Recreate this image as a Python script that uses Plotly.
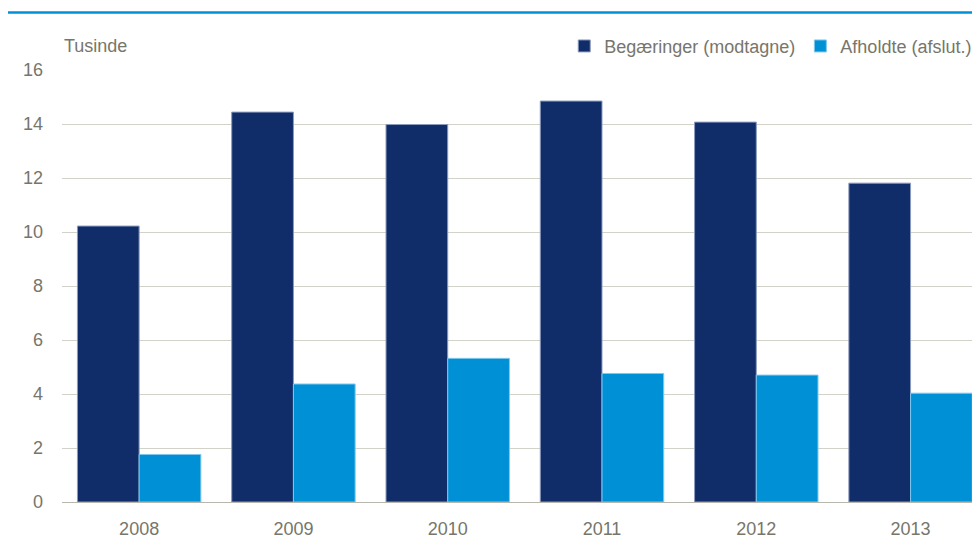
import plotly.graph_objects as go

# Antal sager (tusinde) pr. år
years = ["2008", "2009", "2010", "2011", "2012", "2013"]
begaeringer = [10.22, 14.44, 13.98, 14.85, 14.07, 11.81]
afholdte = [1.76, 4.37, 5.32, 4.76, 4.70, 4.03]

DARK = "#102d69"
LIGHT = "#0090d6"
GRAY = "#77766b"
FONT = "Liberation Sans, Arial"

fig = go.Figure()
fig.add_trace(go.Bar(
    x=years, y=begaeringer, name="Begæringer (modtagne)",
    marker=dict(color=DARK, line=dict(color="#8b9bbd", width=1)),
))
fig.add_trace(go.Bar(
    x=years, y=afholdte, name="Afholdte (afslut.)",
    marker=dict(color=LIGHT, line=dict(color="#7fc8ee", width=1)),
))

# page body adds 8px margin, so figure is slightly smaller than the window
fig.update_layout(
    width=972, height=534,
    margin=dict(l=54, r=0, t=62, b=40),
    paper_bgcolor="white", plot_bgcolor="white",
    barmode="group", bargap=0.2, bargroupgap=0,
    font=dict(family=FONT, size=18, color=GRAY),
    showlegend=True,
    legend=dict(
        orientation="h", x=0.997, xanchor="right", y=1.055, yanchor="middle",
        font=dict(family=FONT, size=18, color=GRAY),
        itemwidth=30, traceorder="normal",
    ),
    xaxis=dict(
        range=[-0.5, 5.45], showgrid=False, ticks="",
        showline=True, linecolor="#b8b7ae", linewidth=1,
        ticklabelstandoff=10,
        tickfont=dict(size=18, color=GRAY),
    ),
    yaxis=dict(
        range=[0, 16], dtick=2, showgrid=True, gridcolor="#d3d2c9",
        gridwidth=1, zeroline=False, ticks="", ticklabelstandoff=18,
        tickfont=dict(size=18, color=GRAY),
    ),
    annotations=[dict(
        text="Tusinde", xref="paper", yref="paper", x=0, y=1.055,
        xanchor="left", yanchor="middle", showarrow=False,
        font=dict(family=FONT, size=18, color=GRAY),
    )],
    shapes=[dict(
        type="line", xref="paper", yref="paper",
        x0=-0.0588, x1=1.0, y0=1.133, y1=1.133,
        line=dict(color=LIGHT, width=2.5),
    )],
)

fig.write_html("out.html")
